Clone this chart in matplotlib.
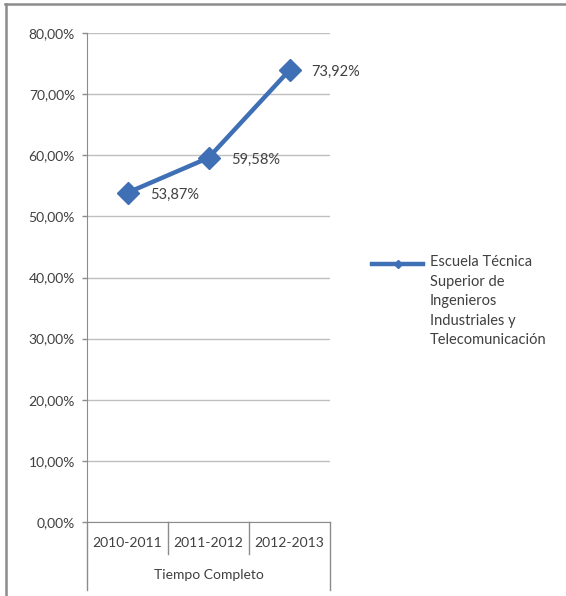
import matplotlib.pyplot as plt
from matplotlib.lines import Line2D

plt.rcParams['font.family'] = ['Lato', 'DejaVu Sans']

# data
years = ['2010-2011', '2011-2012', '2012-2013']
group_label = 'Tiempo Completo'
series_name = 'Escuela Técnica\nSuperior de\nIngenieros\nIndustriales y\nTelecomunicación'
values = [53.87, 59.58, 73.92]
yticks = [0, 10, 20, 30, 40, 50, 60, 70, 80]

W, H = 566, 596
fig = plt.figure(figsize=(W / 100, H / 100), dpi=100)

blue = '#3F6FB5'
grid = '#BFBFBF'
axc = '#8C8C8C'
txt = '#404040'

# plot area in pixels: x 87..330, y 33..522
left, right, top, bottom = 87, 330, 33, 522
ax = fig.add_axes([left / W, 1 - bottom / H, (right - left) / W, (bottom - top) / H])

x = list(range(len(years)))
ax.plot(x, values, color=blue, lw=3.2, marker='D', markersize=11,
        markeredgecolor=blue, markerfacecolor=blue, zorder=3, clip_on=False)
for xi, v in zip(x, values):
    ax.annotate(f'{v:.2f}%'.replace('.', ','), (xi, v), xytext=(16, -1.5),
                textcoords='offset points', va='center', ha='left',
                fontsize=10.5, color=txt)

ax.set_xlim(-0.5, len(years) - 0.5)
ax.set_ylim(0, 80)
ax.set_yticks(yticks)
ax.set_yticklabels([f'{t},00%' for t in yticks], fontsize=10, color=txt)
ax.tick_params(axis='y', length=3.6, color=axc, width=1, pad=5)
ax.set_xticks([])
ax.grid(axis='y', color=grid, lw=1)
ax.set_axisbelow(True)
for s in ['top', 'right']:
    ax.spines[s].set_visible(False)
ax.spines['left'].set_color(axc)
ax.spines['bottom'].set_color(axc)

# category axis with group label
n = len(years)
for i in range(n + 1):
    ext = -0.065 if 0 < i < n else -0.14
    ax.add_line(Line2D([i / n, i / n], [0, ext], transform=ax.transAxes,
                       color=axc, lw=1, clip_on=False))
for i, yr in enumerate(years):
    ax.text((i + 0.5) / n, -0.043, yr, transform=ax.transAxes, ha='center',
            va='center', fontsize=10, color=txt)
ax.text(0.5, -0.108, group_label, transform=ax.transAxes, ha='center',
        va='center', fontsize=10, color=txt)

# legend
fig.add_artist(Line2D([372 / W, 423 / W], [1 - 264 / H, 1 - 264 / H],
                      color=blue, lw=3.2, transform=fig.transFigure))
fig.add_artist(Line2D([397.5 / W], [1 - 264 / H], marker='D', markersize=4,
                      color=blue, transform=fig.transFigure))
fig.text(430 / W, 1 - 255.5 / H, series_name, ha='left', va='top', fontsize=10.5,
         color=txt, linespacing=1.5)

# outer frame
fig.add_artist(Line2D([5 / W, 1], [1 - 4 / H, 1 - 4 / H], color='#8C8C8C',
                      lw=1.8, transform=fig.transFigure))
fig.add_artist(Line2D([5.5 / W, 5.5 / W], [0, 1 - 4 / H], color='#8C8C8C',
                      lw=1.8, transform=fig.transFigure))

fig.savefig('out.png', dpi=100)
